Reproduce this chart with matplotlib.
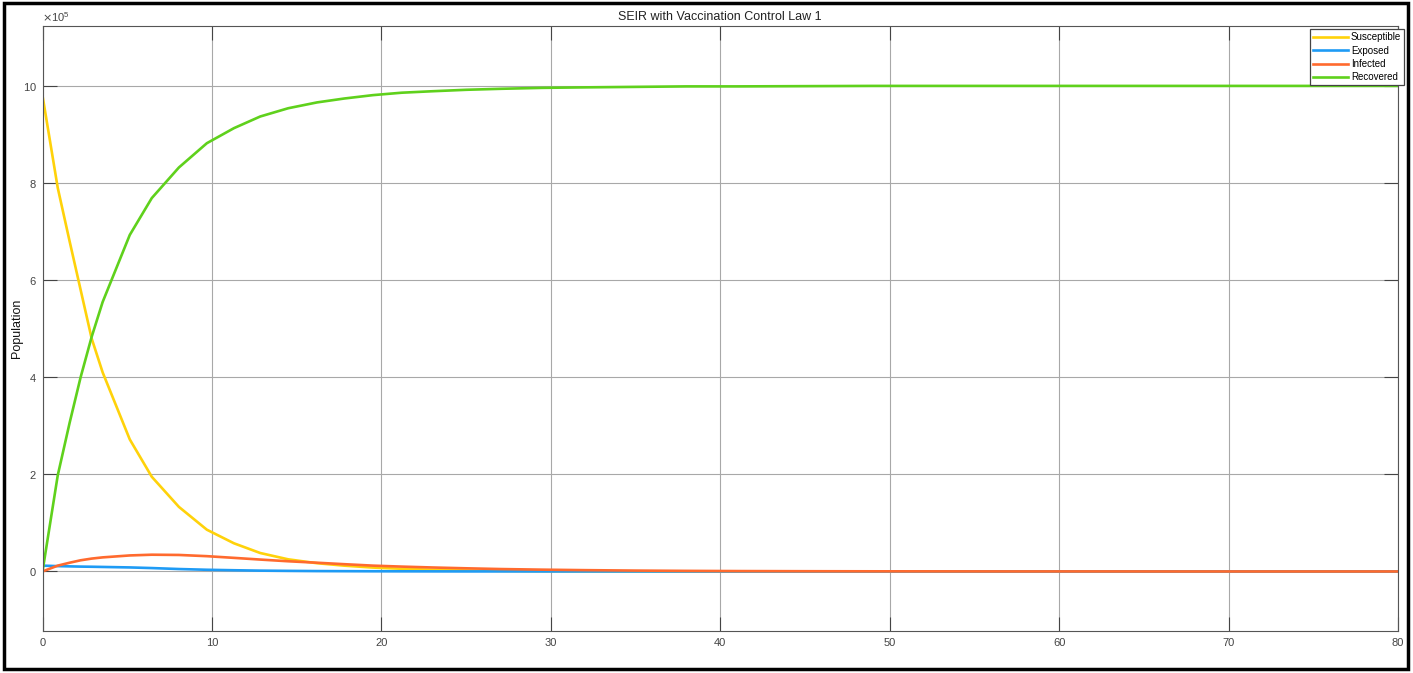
import matplotlib
matplotlib.use("Agg")
import matplotlib.pyplot as plt
import numpy as np
from matplotlib.patches import Rectangle

plt.rcParams["font.family"] = ["Liberation Sans", "DejaVu Sans"]

# solver output times (days)
t = [0.0, 0.9, 1.6, 2.25, 2.9, 3.55, 5.15, 6.45, 8.05, 9.7, 11.3, 12.85,
     14.5, 16.2, 17.8, 19.5, 21.2, 23.0, 25.0, 27.0, 29.5, 32.0, 35.0, 38.0,
     41.0, 45.0, 49.0, 53.0, 57.0, 62.0, 67.0, 72.0, 77.0, 80.0]

# compartments, in units of 1e5 people
susceptible = [9.8, 7.9, 6.8, 5.8, 4.8, 4.1, 2.72, 1.95, 1.33, 0.86, 0.58,
               0.38, 0.25, 0.17, 0.12, 0.08, 0.055, 0.036, 0.022, 0.013,
               0.007, 0.003, 0.001, 0.0, 0.0, 0.0, 0.0, 0.0, 0.0, 0.0, 0.0,
               0.0, 0.0, 0.0]
exposed = [0.12, 0.11, 0.105, 0.1, 0.097, 0.093, 0.083, 0.07, 0.05, 0.035,
           0.025, 0.017, 0.012, 0.008, 0.006, 0.004, 0.003, 0.002, 0.001,
           0.001, 0.0, 0.0, 0.0, 0.0, 0.0, 0.0, 0.0, 0.0, 0.0, 0.0, 0.0,
           0.0, 0.0, 0.0]
infected = [0.0, 0.12, 0.18, 0.23, 0.265, 0.29, 0.33, 0.345, 0.34, 0.315,
            0.28, 0.245, 0.21, 0.18, 0.15, 0.12, 0.1, 0.082, 0.065, 0.05,
            0.037, 0.027, 0.018, 0.012, 0.008, 0.005, 0.003, 0.002, 0.001,
            0.001, 0.0, 0.0, 0.0, 0.0]
recovered = [0.0, 1.98, 3.06, 4.0, 4.83, 5.55, 6.93, 7.69, 8.32, 8.82, 9.13,
             9.37, 9.54, 9.66, 9.74, 9.81, 9.86, 9.89, 9.92, 9.94, 9.96, 9.97,
             9.98, 9.99, 9.99, 9.995, 10.0, 10.0, 10.0, 10.0, 10.0, 10.0,
             10.0, 10.0]

series = [
    ("Susceptible", susceptible, "#FFD20A"),
    ("Exposed", exposed, "#1E9BF5"),
    ("Infected", infected, "#FF6A2E"),
    ("Recovered", recovered, "#5FD11C"),
]

W, H = 1413, 673
fig = plt.figure(figsize=(W / 100, H / 100), dpi=100)
ax = fig.add_axes([42.5 / W, 1 - 630.7 / H, (1398 - 42.5) / W, (630.7 - 25.7) / H])

scale = 1e5
for name, vals, color in series:
    ax.plot(t, np.array(vals) * scale, color=color, linewidth=1.9, label=name)

ax.set_xlim(0, 80)
ax.set_ylim(-1.22e5, 11.24e5)
ax.set_xticks(np.arange(0, 81, 10))
ax.set_yticks(np.arange(0, 11, 2) * scale)
ax.ticklabel_format(axis="y", style="sci", scilimits=(5, 5), useMathText=True)
ax.yaxis.get_offset_text().set_fontsize(8)
ax.yaxis.get_offset_text().set_color("#444444")

ax.grid(True, color="#a8a8a8", linewidth=0.8)
ax.set_axisbelow(True)
ax.tick_params(direction="in", length=10, width=0.8, color="#444444",
               labelcolor="#444444", labelsize=8, top=True, right=True, pad=5)
ax.tick_params(axis="y", pad=4)
for sp in ax.spines.values():
    sp.set_color("#555555")
    sp.set_linewidth(0.8)

ax.set_ylabel("Population", fontsize=9, color="#111111")
ax.yaxis.set_label_coords((23 - 42.5) / (1398 - 42.5), 0.5)
ax.set_title("SEIR with Vaccination Control Law 1", fontsize=9,
             color="#222222", pad=4)

leg = ax.legend(loc="upper right", bbox_to_anchor=(1404 / W, 1 - 29.3 / H),
                bbox_transform=fig.transFigure, borderaxespad=0,
                fontsize=7, frameon=True, fancybox=False, framealpha=1,
                handlelength=3.6, handletextpad=0.3, labelspacing=0.35,
                borderpad=0.3)
leg.get_frame().set_edgecolor("#444444")
leg.get_frame().set_linewidth(0.9)

# black frame around the whole figure
fig.patches.append(Rectangle((4 / W, 4 / H), 1 - 9 / W, 1 - 7 / H,
                             transform=fig.transFigure, fill=False,
                             edgecolor="black", linewidth=2.5))

fig.savefig("out.png", dpi=100)
